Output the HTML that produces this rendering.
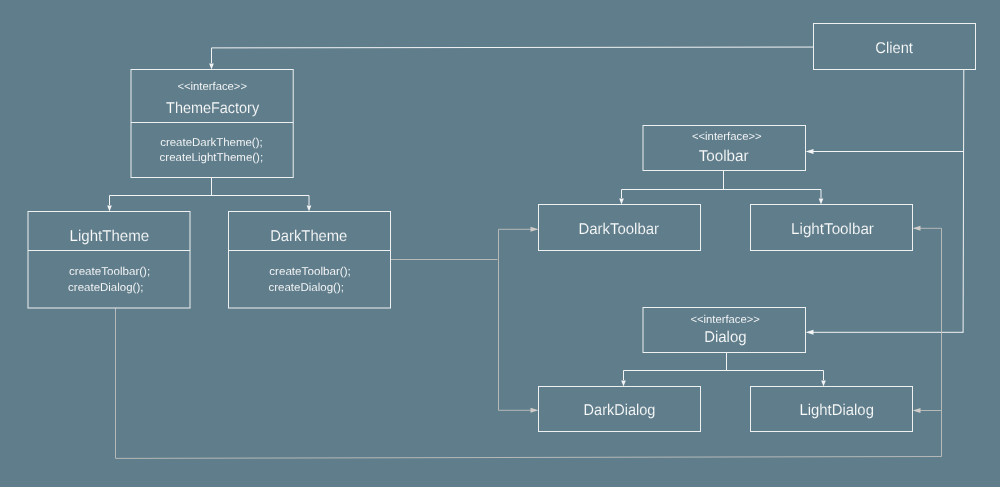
<!DOCTYPE html><html><head><meta charset="utf-8"><style>html,body{margin:0;padding:0;background:#607d8b;width:1000px;height:487px;overflow:hidden}svg{display:block;will-change:transform}text{font-family:"Liberation Sans",sans-serif;text-rendering:geometricPrecision}</style></head><body>
<svg width="1000" height="487" viewBox="0 0 1000 487">
<rect width="1000" height="487" fill="#607d8b"/>
<polyline points="813,47.05 211.5,47.9 211.5,63" fill="none" stroke="#f2f4f5" stroke-width="1"/>
<polyline points="211.5,177.5 211.5,195.5" fill="none" stroke="#f2f4f5" stroke-width="1"/>
<polyline points="109.5,205 109.5,195.5 309,195.5 309,205" fill="none" stroke="#f2f4f5" stroke-width="1"/>
<polyline points="723.5,170.5 723.5,189.5" fill="none" stroke="#f2f4f5" stroke-width="1"/>
<polyline points="621.5,198 621.5,189.5 821,189.5 821,198" fill="none" stroke="#f2f4f5" stroke-width="1"/>
<polyline points="726.5,352.5 726.5,370.5" fill="none" stroke="#f2f4f5" stroke-width="1"/>
<polyline points="623.5,380 623.5,370.5 823.5,370.5 823.5,380" fill="none" stroke="#f2f4f5" stroke-width="1"/>
<polyline points="963.8,69.5 963.1,332.8" fill="none" stroke="#f2f4f5" stroke-width="1"/>
<polyline points="963.6,151.5 812,151.5" fill="none" stroke="#f2f4f5" stroke-width="1"/>
<polyline points="963.1,332.3 812,332.3" fill="none" stroke="#f2f4f5" stroke-width="1"/>
<polyline points="391,259.5 497.5,259.5" fill="none" stroke="#c4c4c0" stroke-width="0.85"/>
<polyline points="531,229.3 498.5,229.3 498.5,410.3 531,410.3" fill="none" stroke="#c4c4c0" stroke-width="0.85"/>
<polyline points="115.5,308 115.5,458.4 941.5,456.5 941.5,228.3 919,228.3" fill="none" stroke="#c4c4c0" stroke-width="0.85"/>
<polyline points="941.5,410.5 919,410.5" fill="none" stroke="#c4c4c0" stroke-width="0.85"/>
<polygon points="211.5,69.5 209.2,63.5 213.8,63.5" fill="#f2f4f5"/>
<polygon points="109.5,211.5 107.2,205.5 111.8,205.5" fill="#f2f4f5"/>
<polygon points="309,211.5 306.7,205.5 311.3,205.5" fill="#f2f4f5"/>
<polygon points="621.5,204.5 619.2,198.5 623.8,198.5" fill="#f2f4f5"/>
<polygon points="821,204.5 818.7,198.5 823.3,198.5" fill="#f2f4f5"/>
<polygon points="623.5,386.5 621.2,380.5 625.8,380.5" fill="#f2f4f5"/>
<polygon points="823.5,386.5 821.2,380.5 825.8,380.5" fill="#f2f4f5"/>
<polygon points="805.5,151.5 813.5,149 813.5,154" fill="#f2f4f5"/>
<polygon points="805.5,332.3 813.5,329.8 813.5,334.8" fill="#f2f4f5"/>
<polygon points="538.5,229.3 530.5,226.8 530.5,231.8" fill="#cdccc9"/>
<polygon points="538.5,410.3 530.5,407.8 530.5,412.8" fill="#cdccc9"/>
<polygon points="912.5,228.3 920.5,225.8 920.5,230.8" fill="#cdccc9"/>
<polygon points="912.5,410.5 920.5,408 920.5,413" fill="#cdccc9"/>
<rect x="813.5" y="23.5" width="162" height="46" fill="none" stroke="#eef1f2" stroke-width="1"/>
<rect x="131" y="69.5" width="162.2" height="108" fill="none" stroke="#eef1f2" stroke-width="1"/>
<line x1="131" y1="122.5" x2="293.2" y2="122.5" stroke="#eef1f2" stroke-width="1"/>
<rect x="28" y="211.5" width="162" height="96.5" fill="none" stroke="#eef1f2" stroke-width="1"/>
<line x1="28" y1="250.5" x2="190" y2="250.5" stroke="#eef1f2" stroke-width="1"/>
<rect x="228.5" y="211.5" width="162" height="96.5" fill="none" stroke="#eef1f2" stroke-width="1"/>
<line x1="228.5" y1="250.5" x2="390.5" y2="250.5" stroke="#eef1f2" stroke-width="1"/>
<rect x="643" y="125.5" width="162.5" height="45" fill="none" stroke="#eef1f2" stroke-width="1"/>
<rect x="538.5" y="204.5" width="162" height="46" fill="none" stroke="#eef1f2" stroke-width="1"/>
<rect x="750.5" y="204.5" width="162" height="46" fill="none" stroke="#eef1f2" stroke-width="1"/>
<rect x="643" y="307.5" width="162.5" height="45" fill="none" stroke="#eef1f2" stroke-width="1"/>
<rect x="538.5" y="386.5" width="162" height="45" fill="none" stroke="#eef1f2" stroke-width="1"/>
<rect x="750.5" y="386.5" width="162" height="45" fill="none" stroke="#eef1f2" stroke-width="1"/>
<text x="875.365" y="53" font-size="15.6" fill="#fafbfb" stroke="#607d8b" stroke-width="0.12" textLength="37.5613" lengthAdjust="spacingAndGlyphs">Client</text>
<text x="177.436" y="90" font-size="11.3" fill="#fafbfb" stroke="#607d8b" stroke-width="0.06" textLength="69.5992" lengthAdjust="spacingAndGlyphs">&lt;&lt;interface&gt;&gt;</text>
<text x="166.082" y="113" font-size="15.6" fill="#fafbfb" stroke="#607d8b" stroke-width="0.12" textLength="93.0509" lengthAdjust="spacingAndGlyphs">ThemeFactory</text>
<text x="160.219" y="146" font-size="11.3" fill="#fafbfb" stroke="#607d8b" stroke-width="0.06" textLength="102.42" lengthAdjust="spacingAndGlyphs">createDarkTheme();</text>
<text x="159.617" y="161" font-size="11.3" fill="#fafbfb" stroke="#607d8b" stroke-width="0.06" textLength="103.517" lengthAdjust="spacingAndGlyphs">createLightTheme();</text>
<text x="69.5638" y="241" font-size="15.6" fill="#fafbfb" stroke="#607d8b" stroke-width="0.12" textLength="79.6113" lengthAdjust="spacingAndGlyphs">LightTheme</text>
<text x="69.0129" y="275" font-size="11.3" fill="#fafbfb" stroke="#607d8b" stroke-width="0.06" textLength="81.2186" lengthAdjust="spacingAndGlyphs">createToolbar();</text>
<text x="68.1176" y="291" font-size="11.3" fill="#fafbfb" stroke="#607d8b" stroke-width="0.06" textLength="75.317" lengthAdjust="spacingAndGlyphs">createDialog();</text>
<text x="270.189" y="241" font-size="15.6" fill="#fafbfb" stroke="#607d8b" stroke-width="0.12" textLength="77.1555" lengthAdjust="spacingAndGlyphs">DarkTheme</text>
<text x="269.21" y="275" font-size="11.3" fill="#fafbfb" stroke="#607d8b" stroke-width="0.06" textLength="81.6262" lengthAdjust="spacingAndGlyphs">createToolbar();</text>
<text x="268.416" y="291" font-size="11.3" fill="#fafbfb" stroke="#607d8b" stroke-width="0.06" textLength="75.5212" lengthAdjust="spacingAndGlyphs">createDialog();</text>
<text x="691.935" y="140" font-size="11.3" fill="#fafbfb" stroke="#607d8b" stroke-width="0.06" textLength="69.7008" lengthAdjust="spacingAndGlyphs">&lt;&lt;interface&gt;&gt;</text>
<text x="698.665" y="161" font-size="15.6" fill="#fafbfb" stroke="#607d8b" stroke-width="0.12" textLength="50.0065" lengthAdjust="spacingAndGlyphs">Toolbar</text>
<text x="578.474" y="234" font-size="15.6" fill="#fafbfb" stroke="#607d8b" stroke-width="0.12" textLength="80.5812" lengthAdjust="spacingAndGlyphs">DarkToolbar</text>
<text x="791.052" y="234" font-size="15.6" fill="#fafbfb" stroke="#607d8b" stroke-width="0.12" textLength="82.8949" lengthAdjust="spacingAndGlyphs">LightToolbar</text>
<text x="690.437" y="323" font-size="11.3" fill="#fafbfb" stroke="#607d8b" stroke-width="0.06" textLength="69.4976" lengthAdjust="spacingAndGlyphs">&lt;&lt;interface&gt;&gt;</text>
<text x="704.174" y="342" font-size="15.6" fill="#fafbfb" stroke="#607d8b" stroke-width="0.12" textLength="42.3975" lengthAdjust="spacingAndGlyphs">Dialog</text>
<text x="583.609" y="415" font-size="15.6" fill="#fafbfb" stroke="#607d8b" stroke-width="0.12" textLength="71.8237" lengthAdjust="spacingAndGlyphs">DarkDialog</text>
<text x="799.48" y="415" font-size="15.6" fill="#fafbfb" stroke="#607d8b" stroke-width="0.12" textLength="74.464" lengthAdjust="spacingAndGlyphs">LightDialog</text>
</svg></body></html>
